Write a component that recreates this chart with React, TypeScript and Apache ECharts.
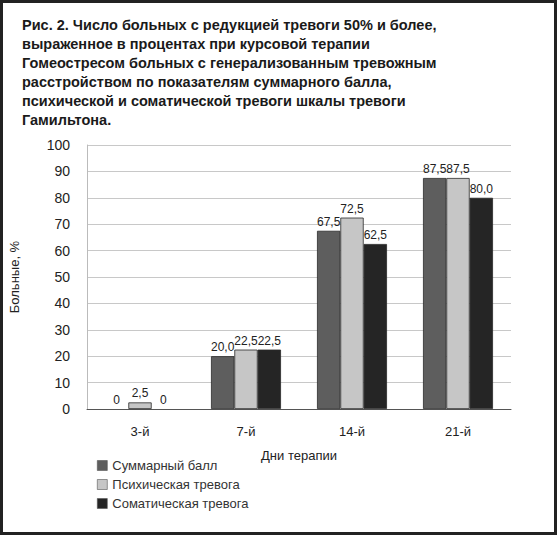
import { useEffect, useRef } from "react";
import * as echarts from "echarts";

const titleLines = [
  "Рис. 2. Число больных с редукцией тревоги 50% и более,",
  "выраженное в процентах при курсовой терапии",
  "Гомеостресом больных с генерализованным тревожным",
  "расстройством по показателям суммарного балла,",
  "психической и соматической тревоги шкалы тревоги",
  "Гамильтона.",
];

const days = ["3-й", "7-й", "14-й", "21-й"];
const totalScore = [0, 20.0, 67.5, 87.5];
const psychic = [2.5, 22.5, 72.5, 87.5];
const somatic = [0, 22.5, 62.5, 80.0];

const seriesNames = ["Суммарный балл", "Психическая тревога", "Соматическая тревога"];
const seriesColors = ["#5e5e5e", "#c6c6c6", "#252525"];

const fmt = (v: number) => (v === 0 ? "0" : v.toFixed(1).replace(".", ","));

export default function App() {
  const ref = useRef<HTMLDivElement>(null);

  useEffect(() => {
    if (!ref.current) return;
    const chart = echarts.init(ref.current, undefined, { renderer: "svg" });
    const font = "'Liberation Sans', Arial, sans-serif";

    const mkSeries = (name: string, data: number[], color: string) => ({
      name, type: "bar", barGap: "0%", barCategoryGap: "34%",
      // zero-height bars get no outline so they stay invisible
      data: data.map(v => (v === 0 ? { value: v, itemStyle: { borderWidth: 0 } } : v)),
      itemStyle: { color, borderColor: "#2a2a2a", borderWidth: 0.8 },
      label: {
        show: true, position: "top", distance: 3, fontSize: 12, color: "#222", fontFamily: font,
        formatter: (p: { value: number }) => fmt(p.value),
      },
    });

    chart.setOption({
      animation: false,
      backgroundColor: "#fff",
      textStyle: { fontFamily: font },
      graphic: [
        {
          type: "rect", shape: { x: 1.5, y: 1.5, width: 554, height: 532 },
          style: { fill: "none", stroke: "#222", lineWidth: 3 }, silent: true,
        },
        {
          type: "text", left: 22, top: 15,
          style: {
            text: titleLines.join("\n"), font: `bold 14.5px ${font}`,
            fill: "#1a1a1a", lineHeight: 19,
          },
        },
      ],
      legend: {
        orient: "vertical", left: 92, top: 454, icon: "rect",
        itemWidth: 10, itemHeight: 10, itemGap: 6,
        itemStyle: { borderWidth: 0.6, borderColor: "#555" },
        textStyle: { fontSize: 13, color: "#333", fontFamily: font },
        data: seriesNames,
      },
      grid: { left: 83, right: 48, top: 145, bottom: 127 },
      xAxis: {
        type: "category", data: days,
        name: "Дни терапии", nameLocation: "middle", nameGap: 40,
        nameTextStyle: { fontSize: 13, color: "#222" },
        axisLine: { lineStyle: { color: "#555" } },
        axisTick: { show: false },
        axisLabel: { fontSize: 13, color: "#222", margin: 16 },
      },
      yAxis: {
        type: "value", min: 0, max: 100, interval: 10,
        name: "Больные, %", nameLocation: "middle", nameGap: 66,
        nameTextStyle: { fontSize: 13, color: "#222" },
        axisLine: { show: true, lineStyle: { color: "#bbb" } },
        axisTick: { show: false },
        axisLabel: { fontSize: 14, color: "#222", margin: 17 },
        splitLine: { lineStyle: { color: "#c8c8c8" } },
      },
      series: [
        mkSeries(seriesNames[0], totalScore, seriesColors[0]),
        mkSeries(seriesNames[1], psychic, seriesColors[1]),
        mkSeries(seriesNames[2], somatic, seriesColors[2]),
      ],
    });

    return () => chart.dispose();
  }, []);

  return <div ref={ref} style={{ position: "absolute", left: 0, top: 0, width: 559, height: 536 }} />;
}
